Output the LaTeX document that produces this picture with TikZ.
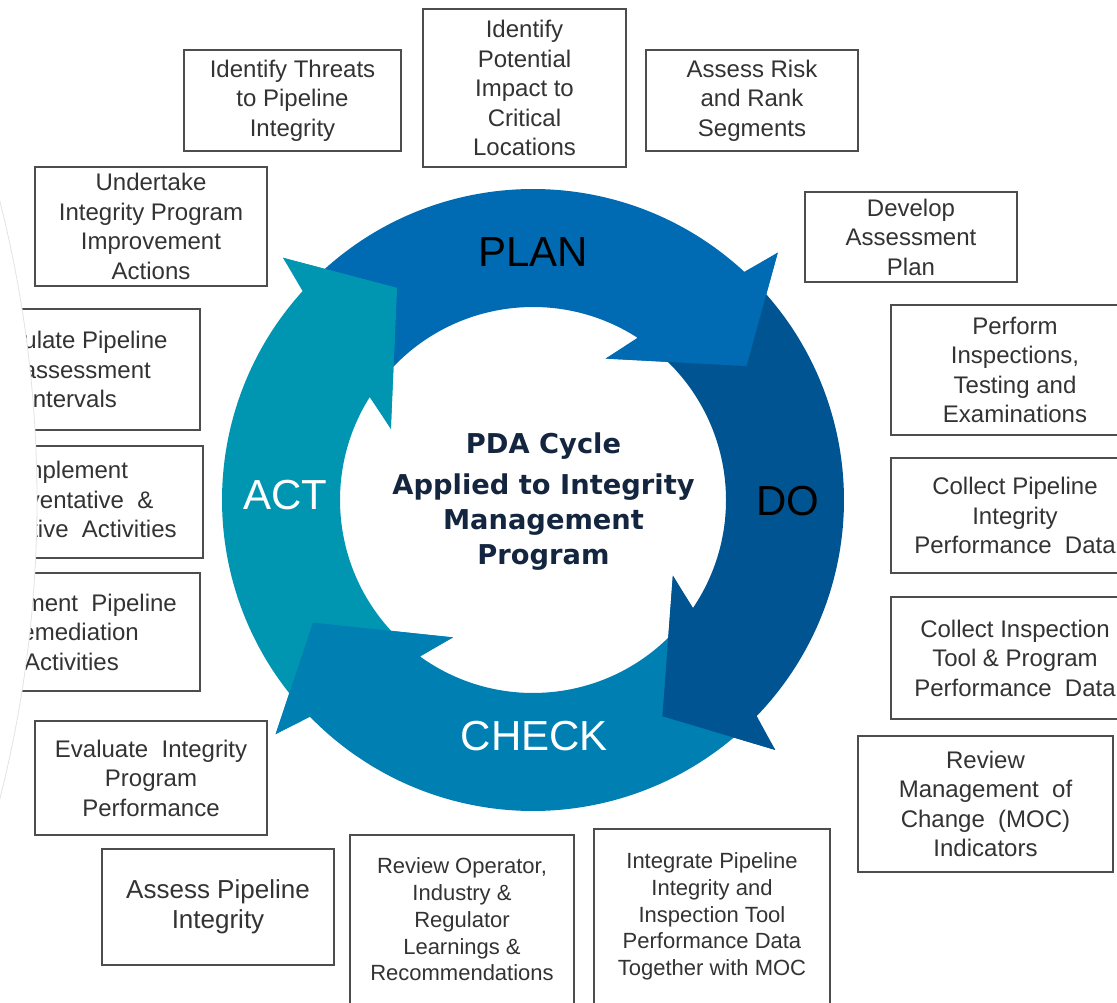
\documentclass[tikz,border=0pt]{standalone}
\usepackage{fontspec}
\setmainfont{Liberation Sans}
\newfontfamily\hubfont{DejaVu Sans}

\definecolor{plancol}{HTML}{006BB2}
\definecolor{docol}{HTML}{005491}
\definecolor{checkcol}{HTML}{0080B2}
\definecolor{actcol}{HTML}{0096B2}
\definecolor{boxline}{HTML}{4D4D4D}
\definecolor{boxtext}{HTML}{333333}
\definecolor{hubtext}{HTML}{14253F}

\newcommand{\rout}{311}
\newcommand{\rin}{193}
% #1 colour, #2 head angle of the segment before, #3 own head angle
\newcommand{\ringarrow}[3]{%
  \fill[#1] ({#2+1}:\rout) arc[start angle=#2+1, end angle=#3+1.9, radius=\rout]
    -- (#3:348) -- ({#3-13.2}:252) -- ({#3+17.5}:159) -- ({#3+11.9}:\rin)
    arc[start angle=#3+11.9, end angle=#2+4, radius=\rin] -- cycle;}
\newcommand{\ringhead}[2]{%
  \fill[#1] (#2:348) -- ({#2-13.2}:252) -- ({#2+17.5}:159) -- cycle;}

\begin{document}
\begin{tikzpicture}[x=1pt,y=1pt,
  task/.style={draw=boxline,line width=1.5pt,fill=white,align=center,text=boxtext,
    inner sep=0pt,font=\fontsize{24}{29.5}\selectfont},
  smalltask/.style={task,font=\fontsize{22}{26.7}\selectfont},
  bigtask/.style={task,font=\fontsize{26}{30}\selectfont},
  ringlabel/.style={font=\fontsize{42}{42}\selectfont,inner sep=0pt}]
\useasboundingbox (0,0) rectangle (1117,1002);
\clip (0,0) rectangle (1117,1002);

\begin{scope}[shift={(533,502)}]
\ringarrow{plancol}{135.9}{45.3}
\ringarrow{docol}{45.3}{-45.9}
\ringarrow{checkcol}{-45.9}{-137.7}
\ringarrow{actcol}{222.3}{135.9}
\ringhead{plancol}{45.3}
\ringhead{docol}{-45.9}
\ringhead{checkcol}{-137.7}
\ringhead{actcol}{135.9}
\end{scope}

\node[ringlabel] (plan) at (533,750) {PLAN};
\node[ringlabel] (do) at (787.5,501) {DO};
\node[ringlabel,text=white] (check) at (534.5,265.5) {CHECK};
\node[ringlabel,text=white] (act) at (285,507) {ACT};
\node[font=\hubfont\bfseries\fontsize{27.3}{35}\selectfont,text=hubtext,align=center]
  (hub) at (543.5,500.5) {PDA Cycle\\[6pt]Applied to Integrity\\Management\\Program};

\node[task,minimum width=217pt,minimum height=101pt] (threats) at (292.5,901.5)
  {Identify Threats\\to Pipeline\\Integrity};
\node[task,minimum width=203pt,minimum height=158pt] (impact) at (524.5,914)
  {Identify\\Potential\\Impact to\\Critical\\Locations};
\node[task,minimum width=212pt,minimum height=101pt] (risk) at (752,901.5)
  {Assess Risk\\and Rank\\Segments};
\node[task,minimum width=232pt,minimum height=119pt] (improve) at (151,775.5)
  {Undertake\\Integrity Program\\Improvement\\Actions};
\node[task,minimum width=212pt,minimum height=90pt] (develop) at (911,765)
  {Develop\\Assessment\\Plan};
\node[task,minimum width=248pt,minimum height=130pt] (perform) at (1015,632)
  {Perform\\Inspections,\\Testing and\\Examinations};
\node[task,minimum width=248pt,minimum height=115pt] (pipedata) at (1015,486.5)
  {Collect Pipeline\\Integrity\\Performance\ \ Data};
\node[task,minimum width=248pt,minimum height=122pt] (tooldata) at (1015,344)
  {Collect Inspection\\Tool \& Program\\Performance\ \ Data};
\node[task,minimum width=255pt,minimum height=136pt] (moc) at (985.5,198)
  {Review\\Management\ \ of\\Change\ \ (MOC)\\Indicators};
\node[smalltask,minimum width=236pt,minimum height=175pt] (merge) at (712,85.5)
  {Integrate Pipeline\\Integrity and\\Inspection Tool\\Performance Data\\Together with MOC};
\node[smalltask,minimum width=224pt,minimum height=169pt] (learn) at (462,82.5)
  {Review Operator,\\Industry \&\\Regulator\\Learnings \&\\Recommendations};
\node[bigtask,minimum width=232pt,minimum height=116pt] (assess) at (218,95)
  {Assess Pipeline\\Integrity};
\node[task,minimum width=232pt,minimum height=114pt] (evaluate) at (151,224)
  {Evaluate\ \ Integrity\\Program\\Performance};
\node[task,minimum width=257pt,minimum height=118pt] (remedy) at (71.5,370)
  {Implement\ \ Pipeline\\Remediation\\Activities};
\node[task,minimum width=262pt,minimum height=112pt] (prevent) at (72,500)
  {Implement\\Preventative\ \ \&\\Mitigative\ \ Activities};
\node[task,minimum width=257pt,minimum height=121pt] (interval) at (71.5,632.5)
  {Calculate Pipeline\\Reassessment\\Intervals};

\fill[white,draw=gray!22,line width=0.8pt] (-1174,502) circle (1211);
\end{tikzpicture}
\end{document}
